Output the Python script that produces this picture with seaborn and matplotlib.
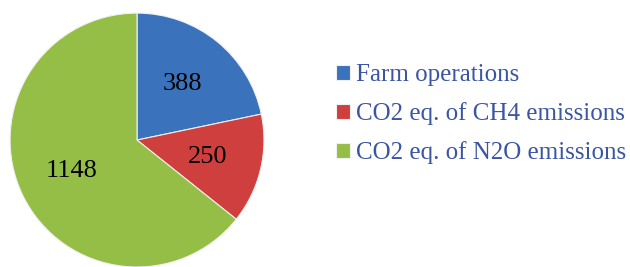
import numpy as np
import seaborn as sns
import matplotlib.pyplot as plt

categories = ['Farm operations', 'CO2 eq. of CH4 emissions', 'CO2 eq. of N2O emissions']
values = [388, 250, 1148]
colors = ['#3A72BC', '#CF3F3D', '#95BE47']

sns.set_theme(style='white')
plt.rcParams['font.family'] = ['Liberation Serif', 'DejaVu Serif']

fig = plt.figure(figsize=(6.3, 2.67), dpi=100)
ax = fig.add_axes([0.016, 0.0, 0.403, 0.951])

wedges, texts, autotexts = ax.pie(
    values, colors=colors, startangle=90, counterclock=False,
    autopct=lambda p: f'{p * sum(values) / 100:.0f}', pctdistance=0.57,
    wedgeprops=dict(edgecolor='#f0f0f0', linewidth=0.8),
    textprops=dict(fontsize=19, color='black'))
ax.set_xlim(-1.0, 1.0)
ax.set_ylim(-1.0, 1.0)
ax.set_aspect('equal')

fig.legend(wedges, categories, loc='upper left', bbox_to_anchor=(0.533, 0.76),
           frameon=False, fontsize=18, labelcolor='#3B55A3',
           handlelength=0.55, handleheight=0.55, handletextpad=0.25,
           labelspacing=0.64, borderaxespad=0, borderpad=0)

fig.savefig('out.png', dpi=100)
